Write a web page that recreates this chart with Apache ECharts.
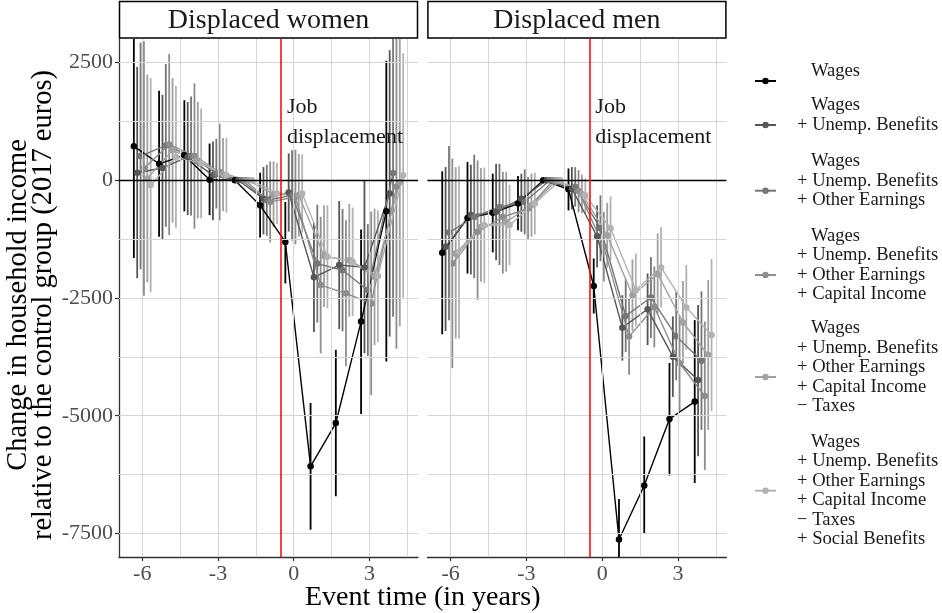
<!DOCTYPE html>
<html><head><meta charset="utf-8">
<script src="https://cdn.jsdelivr.net/npm/echarts@6/dist/echarts.min.js"></script>
<style>html,body{margin:0;padding:0;background:#fff}#c{width:942px;height:613px}</style>
</head><body><div id="c"></div>
<script>
// ---------------- data ----------------
const eventTimes = [-6, -5, -4, -3, -2, -1, 0, 1, 2, 3, 4];
const seriesKeys = ['w', 'wu', 'wuo', 'wuoc', 'wuoct', 'wuocts'];
const legendLines = [
  ['Wages'],
  ['Wages', '+ Unemp. Benefits'],
  ['Wages', '+ Unemp. Benefits', '+ Other Earnings'],
  ['Wages', '+ Unemp. Benefits', '+ Other Earnings', '+ Capital Income'],
  ['Wages', '+ Unemp. Benefits', '+ Other Earnings', '+ Capital Income', '\u2212 Taxes'],
  ['Wages', '+ Unemp. Benefits', '+ Other Earnings', '+ Capital Income', '\u2212 Taxes', '+ Social Benefits']
];
const seriesColors = ['#000000', '#565656', '#767676', '#8d8d8d', '#a1a1a1', '#b3b3b3'];
const panelTitles = ['Displaced women', 'Displaced men'];

// Displaced women: point estimates and confidence bounds (one row per series)
const womenMean = [
  [720, 350, 530, 10, 0, -530, -1310, -6075, -5155, -3000, -660],
  [160, 260, 495, 105, 0, -390, -260, -2060, -1800, -1850, -280],
  [515, 740, 515, 140, 0, -425, -320, -1770, -1910, -2330, 155],
  [250, 760, 515, 175, 0, -460, -355, -2225, -2400, -2615, -140],
  [40, 635, 425, 120, 0, -300, -320, -1610, -1700, -2050, -35],
  [-100, 495, 360, 105, 0, -280, -280, -1625, -1730, -2035, 105]
];
const womenLo = [
  [-1650, -1200, -660, -740, 0, -1215, -2190, -7420, -6710, -4965, -3850],
  [-2080, -1270, -740, -850, 0, -1150, -1090, -3220, -3160, -3670, -3320],
  [-1890, -990, -750, -600, 0, -1180, -1280, -3020, -3210, -3730, -2900],
  [-2450, -1165, -1030, -850, 0, -1320, -1360, -3675, -3950, -4565, -3580],
  [-2165, -900, -810, -660, 0, -1000, -1200, -2690, -2900, -3500, -3100],
  [-2370, -1010, -805, -690, 0, -930, -1110, -2720, -2880, -3435, -2490]
];
const womenHi = [
  [3090, 1900, 1700, 780, 0, 160, -460, -4730, -3600, -1045, 2540],
  [2410, 1815, 1660, 825, 0, 280, 570, -900, -440, -15, 2760],
  [2920, 2470, 1780, 880, 0, 330, 640, -520, -610, -930, 3200],
  [2950, 2685, 2060, 1200, 0, 400, 650, -775, -850, -665, 3300],
  [2245, 2170, 1660, 900, 0, 400, 560, -530, -500, -600, 3050],
  [2170, 2000, 1525, 900, 0, 370, 550, -530, -580, -635, 2700]
];

// Displaced men
const menMean = [
  [-1540, -800, -690, -495, 0, -190, -2245, -7630, -6480, -5070, -4700],
  [-1410, -740, -670, -390, 0, -180, -1190, -3130, -2740, -3745, -4240],
  [-1110, -780, -565, -460, 0, -140, -1020, -2880, -2490, -3310, -3830],
  [-1770, -1095, -780, -600, 0, -230, -1410, -3320, -2690, -3885, -4580],
  [-1555, -990, -880, -530, 0, -290, -1165, -2440, -1990, -3020, -3710],
  [-1520, -955, -950, -495, 0, -320, -1020, -2330, -1850, -2700, -3285]
];
const menLo = [
  [-3270, -1980, -1530, -1060, 0, -640, -2830, -8500, -7490, -6270, -6430],
  [-3200, -2000, -1700, -1095, 0, -620, -1850, -3830, -3500, -4600, -5860],
  [-2970, -2080, -1800, -1150, 0, -560, -1720, -3650, -3350, -4250, -5300],
  [-3990, -2540, -1980, -1270, 0, -680, -2150, -4130, -3550, -4900, -6150],
  [-3360, -2155, -1940, -1200, 0, -700, -1850, -3200, -2850, -3900, -5300],
  [-3360, -2180, -1800, -1150, 0, -700, -1700, -3100, -2700, -3600, -4900]
];
const menHi = [
  [190, 390, 140, 90, 0, 250, -1660, -6770, -5440, -3880, -2970],
  [280, 330, 350, 140, 0, 280, -530, -2440, -1980, -2890, -2650],
  [730, 540, 350, 230, 0, 280, -320, -2100, -1630, -2370, -2360],
  [460, 420, 180, 70, 0, 220, -670, -2510, -1830, -2870, -3000],
  [280, 260, 180, 140, 0, 120, -480, -1680, -1130, -2140, -2120],
  [300, 270, -100, 160, 0, 40, -340, -1560, -1000, -1800, -1670]
];

const yTicks = [-7500, -5000, -2500, 0, 2500];
const yMinor = [-6250, -3750, -1250, 1250];
const xTicks = [-6, -3, 0, 3];
const xMinor = [-4.5, -1.5, 1.5, 4.5];
const displacementTime = -0.5;
const annotationText = 'Job\ndisplacement';
const annotationPos = [-0.27, 1240];

// ---------------- chart ----------------
const FONT = '"Liberation Serif", "Times New Roman", serif';
const chart = echarts.init(document.getElementById('c'));
const dodge = i => (i - 2.5) * 0.8 / 6;
const X_MIN = -6.921, X_MAX = 4.921, Y_MIN = -8000, Y_MAX = 3000;
const grids = [
  { left: 119, top: 39, width: 299, height: 518 },
  { left: 427.4, top: 39, width: 299, height: 518 }
];
const panelData = [[womenMean, womenLo, womenHi], [menMean, menLo, menHi]];

const series = [];
for (let p = 0; p < 2; p++) {
  // gridlines
  series.push({
    type: 'line', xAxisIndex: p, yAxisIndex: p, data: [], silent: true, z: 1,
    markLine: {
      silent: true, symbol: 'none', animation: false, label: { show: false },
      lineStyle: { color: '#d6d6d6', width: 1, type: 'solid' },
      data: [...xTicks, ...xMinor].map(v => ({ xAxis: v }))
        .concat([...yTicks, ...yMinor].map(v => ({ yAxis: v })))
    }
  });
  // zero line + displacement line + annotation
  series.push({
    type: 'line', xAxisIndex: p, yAxisIndex: p, data: [], silent: true, z: 2,
    markLine: {
      silent: true, symbol: 'none', animation: false, label: { show: false },
      data: [
        { yAxis: 0, lineStyle: { color: '#000', width: 1.3, type: 'solid' } },
        { xAxis: displacementTime, lineStyle: { color: '#ff0000', width: 1.5, type: 'solid' } }
      ]
    },
    markPoint: {
      silent: true, animation: false, symbol: 'circle', symbolSize: 0,
      data: [{ coord: annotationPos }],
      label: {
        show: true, position: 'inside', align: 'left', verticalAlign: 'middle',
        formatter: annotationText, fontFamily: FONT, fontSize: 22, lineHeight: 30, color: '#1a1a1a'
      }
    }
  });
  const [M, L, H] = panelData[p];
  for (let i = 0; i < 6; i++) {
    const col = seriesColors[i];
    series.push({
      type: 'custom', name: seriesKeys[i] + '_ci', xAxisIndex: p, yAxisIndex: p, z: 3, clip: true, silent: true,
      data: eventTimes.map((t, j) => [t + dodge(i), L[i][j], H[i][j]]),
      encode: { x: 0, y: [1, 2] },
      renderItem: (params, api) => {
        const a = api.coord([api.value(0), api.value(1)]);
        const b = api.coord([api.value(0), api.value(2)]);
        return { type: 'line', shape: { x1: a[0], y1: a[1], x2: b[0], y2: b[1] },
          style: { stroke: col, lineWidth: 1.8 } };
      }
    });
  }
  for (let i = 0; i < 6; i++) {
    const col = seriesColors[i];
    series.push({
      type: 'line', name: seriesKeys[i], xAxisIndex: p, yAxisIndex: p, z: 4, clip: true,
      data: eventTimes.map((t, j) => [t + dodge(i), M[i][j]]),
      symbol: 'circle', symbolSize: 6.5, showSymbol: true,
      lineStyle: { color: col, width: 1.4 }, itemStyle: { color: col }
    });
  }
}

const xAxes = [0, 1].map(p => ({
  type: 'value', gridIndex: p, min: X_MIN, max: X_MAX,
  splitLine: { show: false },
  axisLine: { show: true, onZero: false, lineStyle: { color: '#333', width: 1.3 } },
  axisTick: { show: true, customValues: xTicks, length: 4, lineStyle: { color: '#333', width: 1.2 } },
  axisLabel: { customValues: xTicks, formatter: v => String(v), fontFamily: FONT, fontSize: 22, color: '#4d4d4d', margin: 6 }
}));
const yAxes = [0, 1].map(p => ({
  type: 'value', gridIndex: p, min: Y_MIN, max: Y_MAX,
  splitLine: { show: false },
  axisLine: { show: p === 0, onZero: false, lineStyle: { color: '#333', width: 1.3 } },
  axisTick: { show: p === 0, customValues: yTicks, length: 4, lineStyle: { color: '#333', width: 1.2 } },
  axisLabel: { show: p === 0, customValues: yTicks, formatter: v => String(v), fontFamily: FONT, fontSize: 22, color: '#4d4d4d', margin: 6 },
  name: p === 0 ? 'Change in household income\nrelative to the control group (2017 euros)' : '',
  nameLocation: 'middle', nameGap: 62, nameRotate: 90,
  nameTextStyle: { fontFamily: FONT, fontSize: 28.5, lineHeight: 25, color: '#000', padding: [0, 14, 0, 0] }
}));

// legends, one per entry
const LH = 19.4;
const legendIconY = [81, 125, 190.7, 275, 377, 490.7];
const legendTrailing = [1, 1, 1, 1, 1, 0];
const legends = seriesKeys.map((k, i) => {
  const n = legendLines[i].length;
  const padB = legendTrailing[i] * LH;
  const h = n * LH + padB;
  return {
    data: [k], orient: 'vertical', left: 754, top: legendIconY[i] - h / 2, padding: 0,
    itemWidth: 21, itemHeight: 8, selectedMode: false,
    formatter: name => legendLines[seriesKeys.indexOf(name)].map((l, q) => q === 0 ? '{ind| }' + l : l).join('\n'),
    textStyle: {
      fontFamily: FONT, fontSize: 18.6, lineHeight: LH, color: '#1a1a1a', padding: [0, 0, padB, 16],
      rich: { ind: { width: 14, fontFamily: FONT, fontSize: 18.6, lineHeight: LH } }
    }
  };
});

const graphic = [];
grids.forEach((g, p) => {
  graphic.push({ type: 'rect', silent: true, shape: { x: g.left + 0.5, y: 1.5, width: g.width - 1, height: 36.5 },
    style: { fill: '#fff', stroke: '#000', lineWidth: 1.5 } });
  graphic.push({ type: 'text', silent: true, x: g.left + g.width / 2, y: 20.5,
    style: { text: panelTitles[p], fontFamily: FONT, fontSize: 28, fill: '#1a1a1a', align: 'center', verticalAlign: 'middle' } });
});
graphic.push({ type: 'text', silent: true, x: (grids[0].left + grids[1].left + grids[1].width) / 2, y: 598,
  style: { text: 'Event time (in years)', fontFamily: FONT, fontSize: 28, fill: '#000', align: 'center', verticalAlign: 'middle' } });

chart.setOption({
  animation: false,
  backgroundColor: '#fff',
  grid: grids,
  xAxis: xAxes,
  yAxis: yAxes,
  legend: legends,
  graphic: graphic,
  series: series
});
</script>
</body></html>
